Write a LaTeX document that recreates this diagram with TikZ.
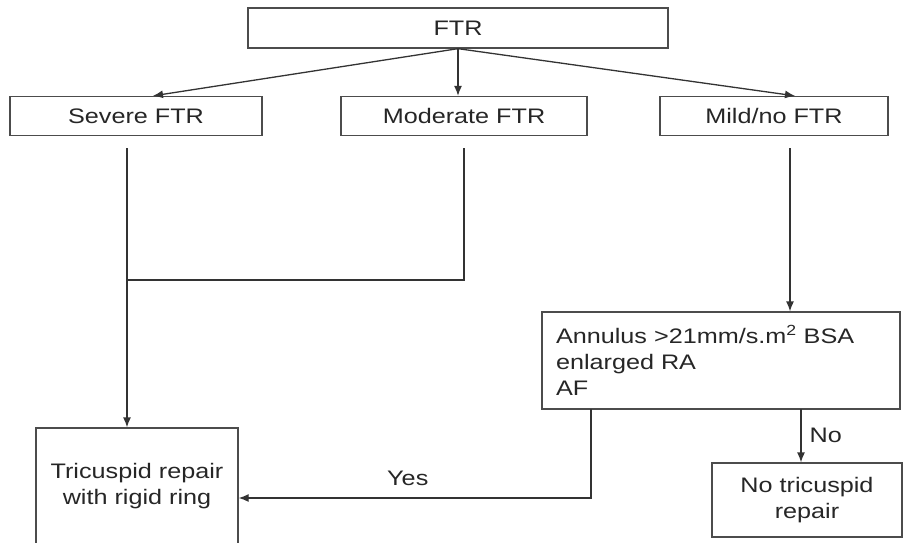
\documentclass[tikz,border=0pt]{standalone}
\usepackage{fontspec}
\setmainfont[FakeStretch=1.2]{Liberation Sans}
\usetikzlibrary{arrows.meta}

\begin{document}
\begin{tikzpicture}[
    x=1pt, y=-1pt,
    every node/.style={font=\fontsize{21}{26}\selectfont, text=black!85},
    boks/.style={rectangle, draw=black!70, line width=1.3pt, inner sep=0pt,
        align=center},
    pil/.style={draw=black!80, line width=1.3pt, -{Latex[length=10pt,width=8pt]}},
    linje/.style={draw=black!80, line width=1.3pt},
    etikett/.style={inner sep=2pt}
    ]
\useasboundingbox (0,0) rectangle (904,542);

% top row
\node[boks, minimum width=420, minimum height=40] (ftr) at (458,28) {FTR};
\node[boks, minimum width=252, minimum height=39] (severe) at (136,116) {Severe FTR};
\node[boks, minimum width=246, minimum height=39] (moderate) at (464,116) {Moderate FTR};
\node[boks, minimum width=228, minimum height=39] (mild) at (774,116) {Mild/no FTR};

% lower part
\node[boks, minimum width=358, minimum height=97, text width=330, align=left]
    (annulus) at (721,360.5) {Annulus >21mm/s.m\textsuperscript{2} BSA\\
    enlarged RA\\
    AF};
\node[boks, minimum width=202, minimum height=116] (tricuspid) at (137,486)
    {Tricuspid repair\\with rigid ring};
\node[boks, minimum width=190, minimum height=74] (notri) at (807,500)
    {No tricuspid\\repair};

% free ends of the lines
\coordinate (sev) at (127,148);
\coordinate (mod) at (464,148);
\coordinate (mil) at (790,148);
\coordinate (meet) at (127,280);
\coordinate (yes) at (591,409);
\coordinate (no) at (801,409);

\draw[pil] (ftr.south) -- ([xshift=17]severe.north);
\draw[pil] (ftr.south) -- (ftr.south |- moderate.north);
\draw[pil] (ftr.south) -- ([xshift=21]mild.north);

\draw[pil] (sev) -- (sev |- tricuspid.north);
\draw[linje] (mod) -- (mod |- meet) -- (meet);
\draw[pil] (mil) -- (mil |- annulus.north);

\draw[pil] (yes) -- ++(0,89) -- (tricuspid.east |- 0,498)
    node[etikett, pos=0.52, above=10pt] {Yes};
\draw[pil] (no) -- (no |- notri.north)
    node[etikett, midway, right=6pt] {No};
\end{tikzpicture}
\end{document}
